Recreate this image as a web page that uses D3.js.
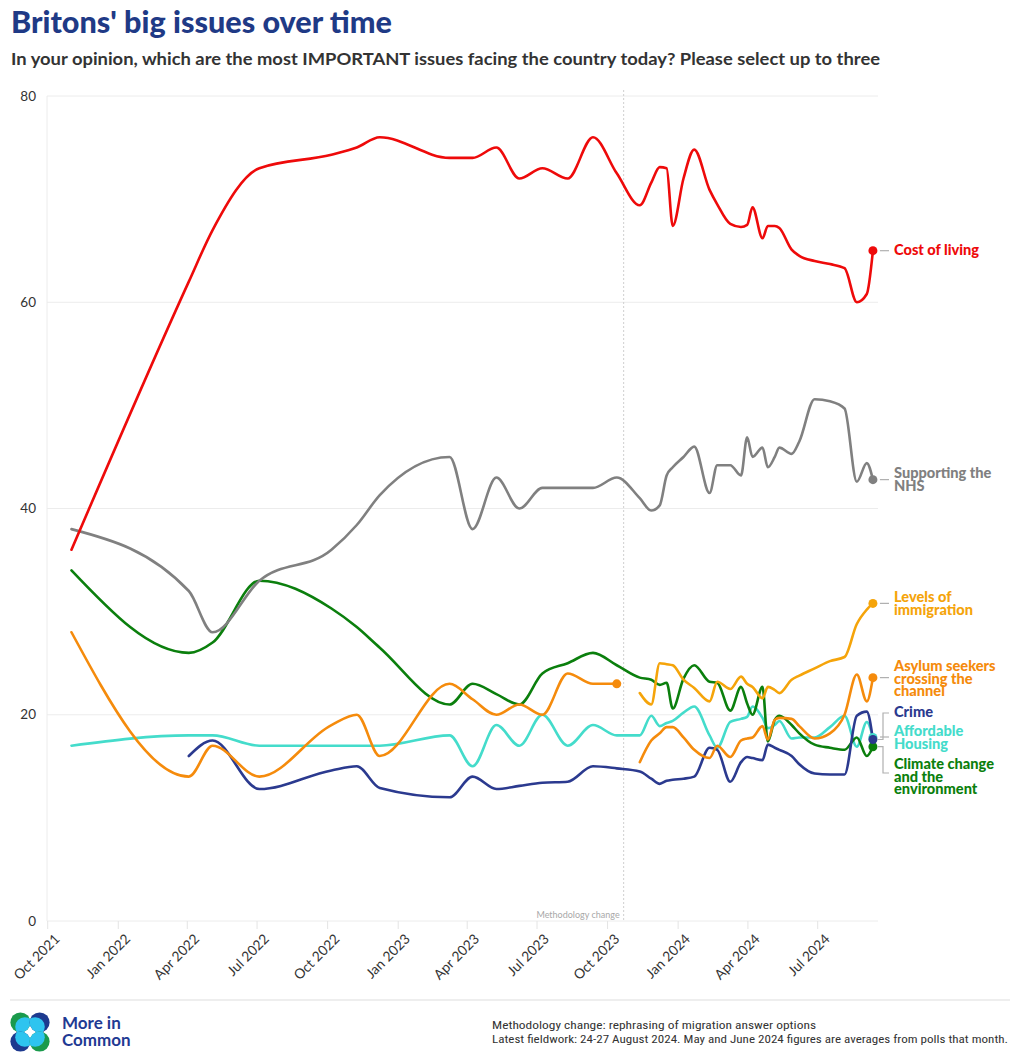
<!DOCTYPE html>
<html>
<head>
<meta charset="utf-8">
<script src="https://cdn.jsdelivr.net/npm/d3@7"></script>
<style>
  html, body { margin: 0; padding: 0; background: #fff; }
  svg { display: block; }
</style>
</head>
<body>
<svg id="chart" width="1020" height="1063"></svg>
<script>
// ---------------- DATA ----------------
const dates = ["2021-11-01","2022-04-03","2022-05-04","2022-07-04","2022-10-06","2022-11-08","2022-12-08",
  "2023-03-09","2023-04-08","2023-05-09","2023-06-08","2023-07-08","2023-08-10","2023-09-12","2023-10-13",
  "2023-11-12","2023-11-27","2023-12-08","2023-12-17","2023-12-25","2024-01-08","2024-01-22","2024-02-11",
  "2024-02-21","2024-03-09","2024-03-23","2024-03-31","2024-04-07","2024-04-20","2024-04-27","2024-05-06",
  "2024-05-12","2024-05-28","2024-06-07","2024-06-27","2024-07-17","2024-08-05","2024-08-21","2024-09-03","2024-09-11"];

const costOfLiving = [36,62,67,73,74.3,75,76,74,74,75,72,73,72,76,72.5,
  69.4,71.6,73.1,73,67.4,72,74.8,70.9,69.5,67.6,67.3,67.5,69.2,66.2,67.4,67.4,67.2,65.1,64.5,64,63.7,63.3,60,60.8,65];
const supportingNHS = [38,32,28,33,36,38.4,41.3,45,38,43,40,42,42,42,43,
  41,39.8,40.3,43.2,44,45,46,41.5,44.2,44.2,43.2,46.9,45,45.9,44,45,45.9,45.3,46.5,50.6,50.4,49.7,42.6,44.4,42.8];
const climateChange = [34,26,27,33,30.3,28.5,26.5,21,23,22,21,24,25,26,24.8,
  23.6,23.4,22.9,23.1,20.6,23.5,24.8,23.2,23.1,20.4,22.7,21.1,20,22.7,17.4,19.5,19.9,19,18.2,17.1,16.8,16.6,17.8,16,16.9];
const affordableHousing = [17,18,18,17,17,17,17,18,15,19,17,20,17,19,18,
  18,19.9,18.9,19.2,19.4,20.2,20.8,18,16.8,19.3,19.6,19.8,20.8,19.7,18.7,19,19.4,17.7,17.8,17.8,18.8,19.9,16.9,19.3,17.8];
const crime = [null,16,17.5,12.8,14.6,15,12.9,12,14,12.8,13.1,13.4,13.5,15,14.8,
  14.5,13.8,13.3,13.6,13.7,13.8,14,16.8,16.6,13.5,15.4,15.9,15.8,15.6,17.1,16.8,16.6,16,15.2,14.3,14.2,14.2,19.9,20.3,17.6];
const immigrationOld = [28,14,17,14,19,20,16,23,21.5,20,21,20,24,23,23,
  null,null,null,null,null,null,null,null,null,null,null,null,null,null,null,null,null,null,null,null,null,null,null,null,null];
const levelsOfImmigration = [null,null,null,null,null,null,null,null,null,null,null,null,null,null,null,
  22.1,21,25,24.9,24.8,23.4,22.6,21.3,23.2,22.5,23.7,23,22.7,21.6,22.7,22.4,22.1,23.4,23.8,24.5,25.2,25.6,28.8,30.2,30.8];
const asylumSeekers = [null,null,null,null,null,null,null,null,null,null,null,null,null,null,null,
  15.4,17.5,18.2,18.8,18.8,17.8,16.6,15.8,17,15.9,17.5,17.7,17.8,18.9,17.6,19.5,19.7,19.6,18.9,17.7,18.2,20,23.9,21.3,23.6];

const yTicks = [0, 20, 40, 60, 80];
const xTickDates = ["2021-10-01","2022-01-01","2022-04-01","2022-07-01","2022-10-01","2023-01-01",
  "2023-04-01","2023-07-01","2023-10-01","2024-01-01","2024-04-01","2024-07-01"];
const methodologyDate = "2023-10-22";

// ---------------- SETUP ----------------
const parse = d3.utcParse("%Y-%m-%d");
const fmt = d3.utcFormat("%b %Y");
const svg = d3.select("#chart");
const FONT = "Lato, 'Open Sans', sans-serif";

const x = d3.scaleUtc().domain([parse("2021-10-01"), parse("2024-07-01")]).range([47.7, 817.7]);
const y = d3.scaleLinear().domain([0, 80]).range([921, 96]);
const plotLeft = 47, plotRight = 878;

const series = [
  { key: "housing", values: affordableHousing, color: "#44dccb", label: ["Affordable", "Housing"], dot: true },
  { key: "climate", values: climateChange, color: "#0b7f0d", label: ["Climate change", "and the", "environment"], dot: true },
  { key: "crime", values: crime, color: "#2b3a8f", label: ["Crime"], dot: true },
  { key: "immOld", values: immigrationOld, color: "#f58b0c", label: null, dot: true },
  { key: "asylum", values: asylumSeekers, color: "#f58b0c", label: ["Asylum seekers", "crossing the", "channel"], dot: true },
  { key: "levels", values: levelsOfImmigration, color: "#f5a40a", label: ["Levels of", "immigration"], dot: true },
  { key: "nhs", values: supportingNHS, color: "#808080", label: ["Supporting the", "NHS"], dot: true },
  { key: "col", values: costOfLiving, color: "#ee0a0a", label: ["Cost of living"], dot: true }
];

// ---------------- TITLES ----------------
svg.append("text").attr("x", 11).attr("y", 33)
  .attr("font-family", FONT).attr("font-weight", 900).attr("font-size", 30)
  .attr("textLength", 381).attr("lengthAdjust", "spacingAndGlyphs")
  .attr("fill", "#1f3a86").text("Britons' big issues over time");
svg.append("text").attr("x", 11).attr("y", 65)
  .attr("font-family", FONT).attr("font-weight", 700).attr("font-size", 17.5)
  .attr("textLength", 869).attr("lengthAdjust", "spacingAndGlyphs")
  .attr("fill", "#333").text("In your opinion, which are the most IMPORTANT issues facing the country today? Please select up to three");

// ---------------- GRID & AXES ----------------
const grid = svg.append("g");
yTicks.forEach(t => {
  grid.append("line").attr("x1", plotLeft).attr("x2", plotRight).attr("y1", y(t)).attr("y2", y(t))
    .attr("stroke", "#ececec").attr("stroke-width", 1);
  grid.append("text").attr("x", 36).attr("y", y(t)).attr("dy", "0.35em").attr("text-anchor", "end")
    .attr("font-family", FONT).attr("font-size", 13.5).attr("fill", "#333").text(t);
});
grid.append("line").attr("x1", plotLeft).attr("x2", plotLeft).attr("y1", y(80)).attr("y2", y(0))
  .attr("stroke", "#ececec");

xTickDates.forEach(s => {
  const d = parse(s), xx = x(d);
  grid.append("line").attr("x1", xx).attr("x2", xx).attr("y1", y(0)).attr("y2", y(0) + 8)
    .attr("stroke", "#e4e4e4");
  grid.append("text").attr("transform", `translate(${xx + 6},${y(0) + 12}) rotate(-45)`)
    .attr("text-anchor", "end").attr("dy", "0.7em")
    .attr("font-family", FONT).attr("font-size", 13.8).attr("fill", "#333").text(fmt(d));
});

// methodology line
const mx = x(parse(methodologyDate));
svg.append("line").attr("x1", mx).attr("x2", mx).attr("y1", 90).attr("y2", y(0))
  .attr("stroke", "#cfcfcf").attr("stroke-dasharray", "2,2");
svg.append("text").attr("x", mx - 4).attr("y", 918).attr("text-anchor", "end")
  .attr("font-family", FONT).attr("font-size", 9).attr("fill", "#a8a8a8").text("Methodology change");

// ---------------- LINES ----------------
const line = d3.line()
  .defined(d => d.v != null)
  .x(d => x(d.date)).y(d => y(d.v))
  .curve(d3.curveMonotoneX);

const gLines = svg.append("g");
series.forEach(s => {
  const pts = dates.map((ds, i) => ({ date: parse(ds), v: s.values[i] }));
  s.pts = pts;
  gLines.append("path").datum(pts).attr("d", line)
    .attr("fill", "none").attr("stroke", s.color).attr("stroke-width", 2.6)
    .attr("stroke-linejoin", "round").attr("stroke-linecap", "round");
});
series.forEach(s => {
  const def = s.pts.filter(p => p.v != null);
  const last = def[def.length - 1];
  s.lastX = x(last.date); s.lastY = y(last.v);
  if (s.dot) gLines.append("circle").attr("cx", s.lastX).attr("cy", s.lastY).attr("r", 4.5).attr("fill", s.color);
});

// ---------------- LABELS ----------------
const labelX = 894, lh = 12.6;
const labelPos = { col: 255, nhs: 478, levels: 602, asylum: 671, crime: 717, housing: 736, climate: 769 };
const gLab = svg.append("g");
series.filter(s => s.label).forEach(s => {
  const t = gLab.append("text").attr("x", labelX).attr("y", labelPos[s.key])
    .attr("font-family", FONT).attr("font-weight", 900).attr("font-size", 14.6).attr("fill", s.color);
  s.label.forEach((l, i) => t.append("tspan").attr("x", labelX).attr("dy", i === 0 ? 0 : lh).text(l));
});
// leaders
const leader = "#b0b0b0";
const byKey = Object.fromEntries(series.map(s => [s.key, s]));
["col", "nhs", "levels", "asylum"].forEach(k => {
  const s = byKey[k];
  gLab.append("line").attr("x1", s.lastX + 7).attr("x2", labelX - 5).attr("y1", s.lastY).attr("y2", s.lastY)
    .attr("stroke", leader).attr("stroke-width", 1.2);
});
gLab.append("line").attr("x1", 880).attr("x2", labelX - 5).attr("y1", 737).attr("y2", 737)
  .attr("stroke", leader).attr("stroke-width", 1.2);
gLab.append("path").attr("d", `M${byKey.crime.lastX + 5},${byKey.crime.lastY} H883 V713 H${labelX - 5}`)
  .attr("fill", "none").attr("stroke", leader).attr("stroke-width", 1.2);
gLab.append("path").attr("d", `M${byKey.climate.lastX + 5},${byKey.climate.lastY} H883 V773 H${labelX - 5}`)
  .attr("fill", "none").attr("stroke", leader).attr("stroke-width", 1.2);

// ---------------- FOOTER ----------------
svg.append("line").attr("x1", 10).attr("x2", 1010).attr("y1", 1000).attr("y2", 1000)
  .attr("stroke", "#dddddd");
const defs = svg.append("defs");
const logo = svg.append("g").attr("transform", "translate(30,1032)");
const r = 10, o = 9.6;
[[-o, -o, "#1a9a4c"], [o, -o, "#1d3a8f"], [-o, o, "#1d3a8f"], [o, o, "#1a9a4c"]].forEach(([cx, cy, c], i) => {
  defs.append("clipPath").attr("id", "lc" + i).append("circle").attr("cx", cx).attr("cy", cy).attr("r", r);
  logo.append("circle").attr("cx", cx).attr("cy", cy).attr("r", r).attr("fill", c);
  logo.append("circle").attr("clip-path", `url(#lc${i})`)
    .attr("cx", cx * 0.55).attr("cy", cy * 0.55).attr("r", r * 0.95).attr("fill", "#2ec4ef");
});
svg.append("text").attr("x", 62).attr("y", 1029).attr("font-family", FONT).attr("font-weight", 700)
  .attr("font-size", 17).attr("fill", "#1f3a93").text("More in");
svg.append("text").attr("x", 62).attr("y", 1046).attr("font-family", FONT).attr("font-weight", 700)
  .attr("font-size", 17).attr("fill", "#1f3a93").text("Common");

const note = svg.append("g").attr("font-family", "'Liberation Sans Narrow', 'Roboto Condensed', sans-serif")
  .attr("font-size", 11).attr("fill", "#333");
note.append("text").attr("x", 492).attr("y", 1029).attr("textLength", 324).attr("lengthAdjust", "spacingAndGlyphs")
  .text("Methodology change: rephrasing of migration answer options");
note.append("text").attr("x", 492).attr("y", 1043).attr("textLength", 516).attr("lengthAdjust", "spacingAndGlyphs")
  .text("Latest fieldwork: 24-27 August 2024. May and June 2024 figures are averages from polls that month.");
</script>
</body>
</html>
